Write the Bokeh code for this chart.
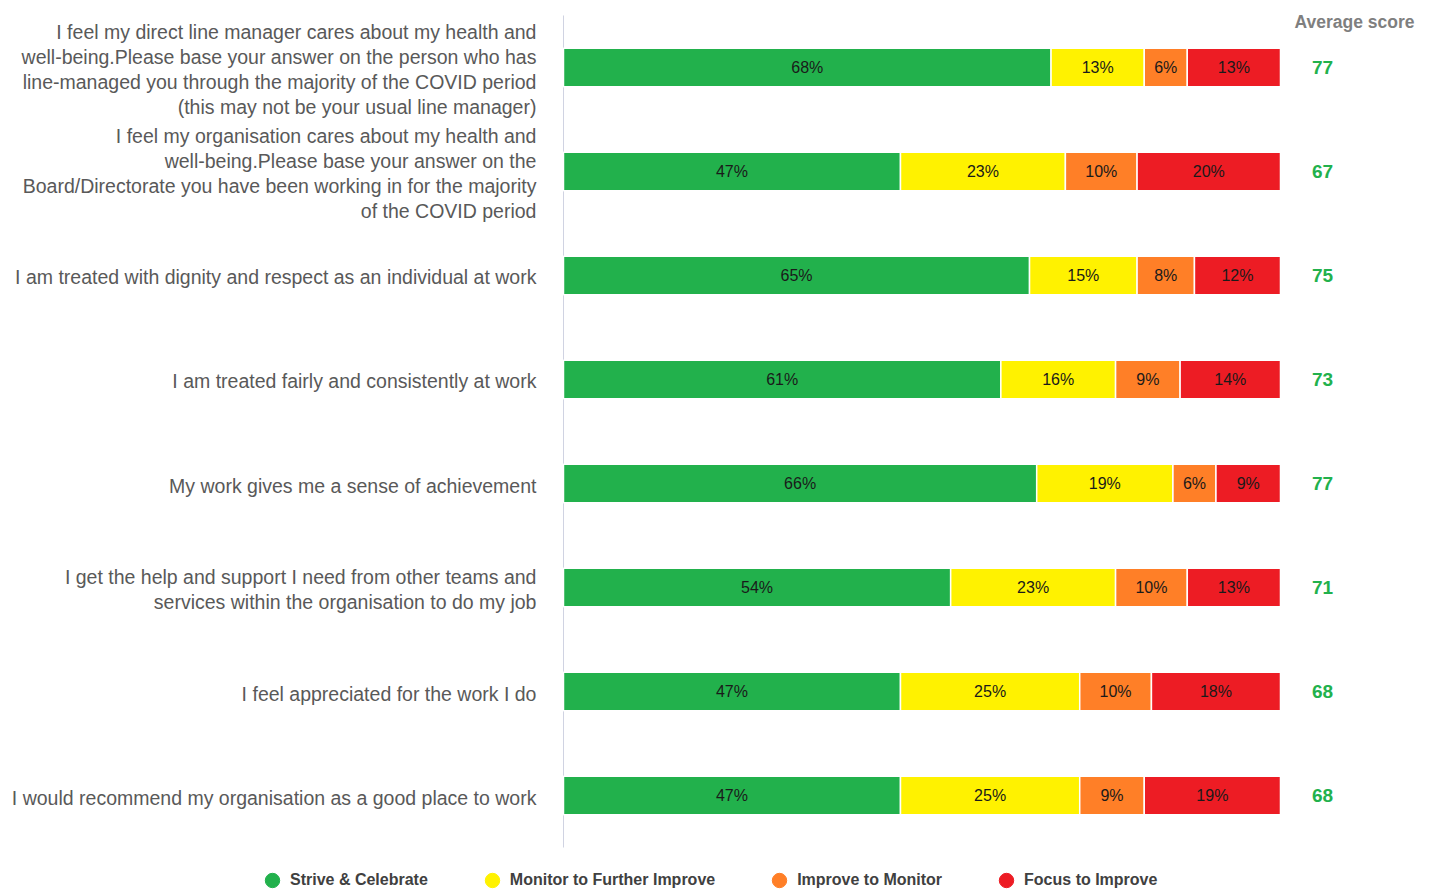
from bokeh.plotting import figure
from bokeh.models import ColumnDataSource, Range1d, Legend, LegendItem
from bokeh.core.properties import value
from bokeh.embed import file_html
from bokeh.resources import INLINE

questions = [
    "I feel my direct line manager cares about my health and\nwell-being.Please base your answer on the person who has\nline-managed you through the majority of the COVID period\n(this may not be your usual line manager)",
    "I feel my organisation cares about my health and\nwell-being.Please base your answer on the\nBoard/Directorate you have been working in for the majority\nof the COVID period",
    "I am treated with dignity and respect as an individual at work",
    "I am treated fairly and consistently at work",
    "My work gives me a sense of achievement",
    "I get the help and support I need from other teams and\nservices within the organisation to do my job",
    "I feel appreciated for the work I do",
    "I would recommend my organisation as a good place to work",
]
strive = [68, 47, 65, 61, 66, 54, 47, 47]
monitor = [13, 23, 15, 16, 19, 23, 25, 25]
improve = [6, 10, 8, 9, 6, 10, 10, 9]
focus = [13, 20, 12, 14, 9, 13, 18, 19]
avg_score = [77, 67, 75, 73, 77, 71, 68, 68]
series_names = ["Strive & Celebrate", "Monitor to Further Improve", "Improve to Monitor", "Focus to Improve"]
series_keys = ["strive", "monitor", "improve", "focus"]
colors = ["#22B14C", "#FFF200", "#FF7F27", "#ED1C24"]
header = "Average score"

n = len(questions)
ypos = [n - 1 - i for i in range(n)]
series = [strive, monitor, improve, focus]

FONT = value("Liberation Sans")

# one frame covering the whole canvas: x in percent (0..100 is the bar area)
p = figure(width=1434, height=893,
           x_range=Range1d(-78.52, 121.48), y_range=Range1d(-0.942, 7.644),
           min_border_left=0, min_border_right=0, min_border_top=0, min_border_bottom=0,
           output_backend="svg", toolbar_location=None,
           x_axis_location=None, y_axis_location=None,
           background_fill_color="white", border_fill_color="white")
p.outline_line_color = None
p.xgrid.visible = False
p.ygrid.visible = False

# category axis line
p.segment(x0=[0], y0=[-0.5], x1=[0], y1=[n - 0.5], line_color="#d0d3e2", line_width=1)

src = ColumnDataSource(dict(y=ypos, strive=strive, monitor=monitor, improve=improve, focus=focus))
p.hbar_stack(series_keys, y="y", height=0.37, color=colors, line_color="white", line_width=1.5, source=src)

# category labels
p.text(x=[-3.77] * n, y=ypos, text=questions, text_align="right", text_baseline="middle",
       y_offset=2, text_font=FONT, text_font_size="19.5px", text_color="#595959",
       text_line_height=1.145)

# segment labels
lx, ly, lt = [], [], []
for i in range(n):
    left = 0
    for s in series:
        v = s[i]
        lx.append(left + v / 2)
        ly.append(ypos[i])
        lt.append(f"{v}%")
        left += v
p.text(x="x", y="y", text="t", source=ColumnDataSource(dict(x=lx, y=ly, t=lt)),
       text_align="center", text_baseline="middle", text_font=FONT,
       text_font_size="16px", text_color="#1a1a1a")

# average scores
p.text(x=[105.86] * n, y=ypos, text=[str(a) for a in avg_score],
       text_align="center", text_baseline="middle", text_font=FONT,
       text_font_size="19px", text_font_style="bold", text_color="#22B14C")
p.text(x=[118.69], y=[n - 1 + 0.433], text=[header],
       text_align="right", text_baseline="middle", text_font=FONT,
       text_font_size="17.5px", text_font_style="bold", text_color="#7f7f7f")

# legend (proxy renderers with a single NaN point, never drawn in the plot)
nan = float("nan")
items = []
for name, c in zip(series_names, colors):
    r = p.scatter(x=[nan], y=[nan], marker="circle", size=15, fill_color=c, line_color=c)
    items.append(LegendItem(label=name, renderers=[r]))
legend = Legend(items=items, orientation="horizontal", location=(254, -5),
                glyph_width=36, glyph_height=36, label_standoff=0, spacing=46,
                padding=0, margin=0, border_line_color=None, background_fill_alpha=0,
                label_text_font="Liberation Sans", label_text_font_size="16px",
                label_text_font_style="bold", label_text_color="#404040")
p.add_layout(legend)

open("out.html", "w").write(file_html(p, INLINE))
